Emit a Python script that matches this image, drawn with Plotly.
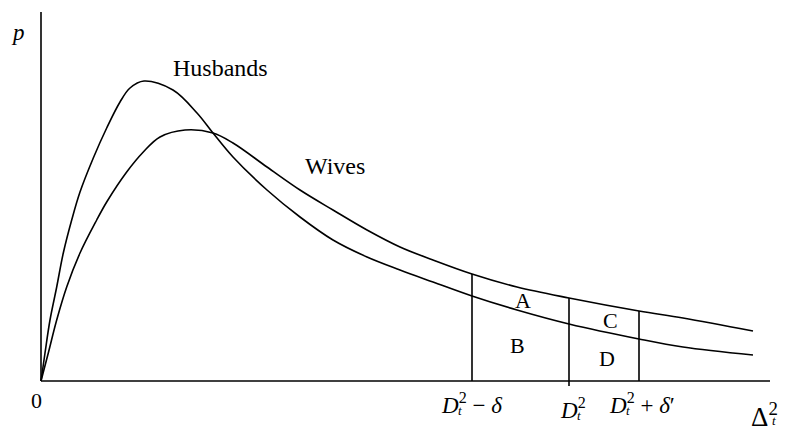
import plotly.graph_objects as go
import numpy as np

# curve readings (x = squared distance, y = density, arbitrary units)
husbands_x = [0, 4, 9, 15.7, 22.3, 30.7, 39, 52.3, 65.7, 79, 89, 103, 132, 156, 172, 192,
              226, 259, 292, 326, 359, 392, 431, 476, 528, 598, 642, 712]
husbands_y = [0, 28, 61, 94, 128, 161, 189, 223, 253, 279, 293, 300, 291, 268, 248, 224,
              191, 164, 141, 124, 111, 99, 85, 71, 57, 42, 34, 26]

wives_x = [0, 7.3, 15.7, 25.7, 39, 55.7, 65.7, 85.7, 102.3, 119, 144, 172, 192, 226, 259,
           292, 326, 359, 392, 431, 476, 528, 598, 642, 712]
wives_y = [0, 28, 61, 94, 128, 161, 179, 209, 229, 244, 251, 248, 238, 214, 191,
           171, 151, 134, 121, 107, 94, 83, 70, 63, 50]

cutoffs = [431, 528, 598]   # D^2-δ, D^2, D^2+δ'
x_axis_end = 729
y_axis_end = 369

serif = "Liberation Serif, Times New Roman, DejaVu Serif, serif"

fig = go.Figure()

# axes
fig.add_trace(go.Scatter(x=[0, x_axis_end], y=[0, 0], mode="lines",
                         line=dict(color="black", width=1.6), hoverinfo="skip"))
fig.add_trace(go.Scatter(x=[0, 0], y=[0, y_axis_end], mode="lines",
                         line=dict(color="black", width=1.6), hoverinfo="skip"))

# curves
for xs, ys in [(husbands_x, husbands_y), (wives_x, wives_y)]:
    fig.add_trace(go.Scatter(x=xs, y=ys, mode="lines",
                             line=dict(color="black", width=1.6, shape="spline", smoothing=1),
                             hoverinfo="skip"))

# vertical lines up to the upper (wives) curve
for i, c in enumerate(cutoffs):
    top = np.interp(c, wives_x, wives_y)
    bottom = -5 if i == 1 else 0
    fig.add_trace(go.Scatter(x=[c, c], y=[bottom, top], mode="lines",
                             line=dict(color="black", width=1.6), hoverinfo="skip"))

ann = []
def label(text, x, y, size=21, xanchor="center"):
    ann.append(dict(text=text, x=x, y=y, xref="x", yref="y", showarrow=False,
                    xanchor=xanchor, yanchor="middle",
                    font=dict(family=serif, size=size, color="black")))

label("<i>p</i>", -23, 349, 23)
label("Husbands", 179, 313, 24)
label("Wives", 294, 215, 24)
label("A", 482, 81, 22)
label("B", 476, 36, 22)
label("C", 569, 61, 22)
label("D", 566, 23, 22)
label("0", -5, -19, 22)

# D_t^2 style labels: main text plus stacked subscript t
label("<i>D</i><sup>2</sup> − <i>δ</i>", 398, -22, 23, xanchor="left")
label("<i>t</i>", 415, -29, 13, xanchor="left")
label("<i>D</i><sup>2</sup>", 517, -27, 23, xanchor="left")
label("<i>t</i>", 534, -34, 13, xanchor="left")
label("<i>D</i><sup>2</sup> + <i>δ</i>′", 566, -22, 23, xanchor="left")
label("<i>t</i>", 583, -29, 13, xanchor="left")
label("Δ<sup>2</sup>", 708, -34, 27, xanchor="left")
label("<i>t</i>", 729, -39, 13, xanchor="left")

fig.update_layout(
    width=785, height=426,
    margin=dict(l=0, r=0, t=0, b=0),
    paper_bgcolor="white", plot_bgcolor="white",
    showlegend=False,
    xaxis=dict(range=[-41, 744], visible=False, fixedrange=True),
    yaxis=dict(range=[-45, 381], visible=False, fixedrange=True),
    annotations=ann,
)

# drop the default page margin so the figure sits at the window corner
fig.write_html("out.html", config={"displayModeBar": False},
               post_script="document.body.style.margin='0';")
